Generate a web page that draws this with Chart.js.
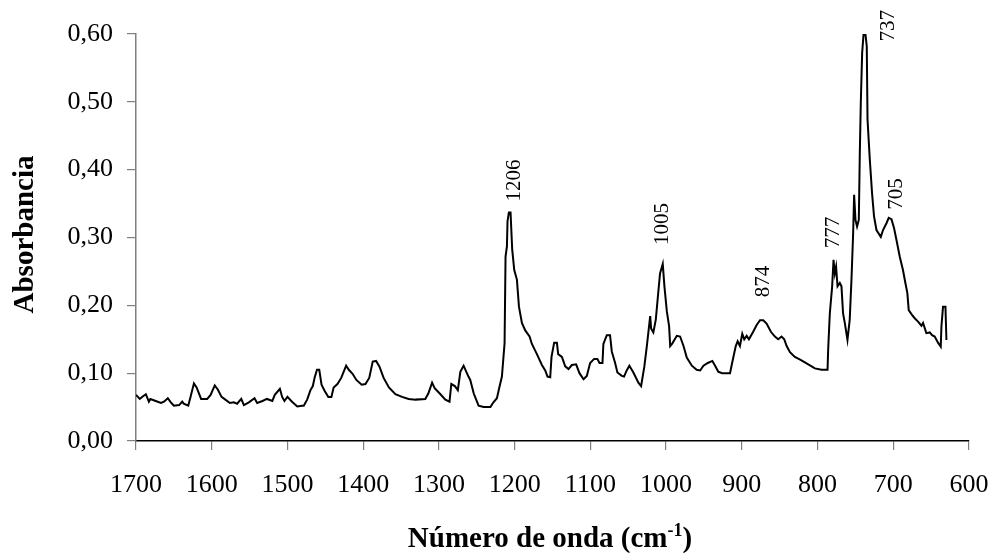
<!DOCTYPE html>
<html>
<head>
<meta charset="utf-8">
<script src="https://cdn.jsdelivr.net/npm/chart.js@4"></script>
<style>
html,body{margin:0;padding:0;background:#fff;}
#wrap{width:994px;height:554px;position:relative;}
</style>
</head>
<body>
<div id="wrap"><canvas id="c" width="994" height="554"></canvas></div>
<script>
// Wavenumber (cm-1), descending
const wavenumbers = [
1700,1695,1692,1687,1683,1681,1674,1667,1663,1658,1654,1650,1643,1639,1637,1631,1628,1623.5,1620,1614,1606,1601.5,1596,1592,1587,1582,1576,1571,1566.5,1561,1557.5,1551,1543.5,1540,1533,1527,1520,1516.7,1510,1507,1504,1500,1494,1487,1481,
1478.5,1474,1469.6,1466.5,1464,1461,1458,1455,1451,1446,1442,1439,1434,1429,1422.5,1419,1414,1409,1402,1397,1392,1387.4,1383,1378.6,1373,1366,1357.5,1348.6,1340,1331,1318,1314,1309,1305.6,1298,1291.5,1286,1283.6,1279,1275,1271.7,1267.4,1261,
1258.6,1254,1247.6,1241,1232,1228,1223.4,1220,1216.8,1213.3,1212,1210.2,1209.4,1207.6,1205.4,1203.2,1200.5,1197,1194.3,1190.4,1186,1180.3,1177.2,1170.6,1164,1159.6,1156.6,1153,1151.3,1147.8,1144.2,1142.5,1137.6,1133.2,1128.9,1124.4,1118.8,1114.4,1109,1104.7,1100.3,1095,1090.7,1088,1084,1082.8,1078.3,1074,1071.7,1067.3,1064.3,1058.5,1055.5,1052,1048.5,1043.2,1036.6,
1033,1028.7,1025.5,1021,1019.8,1016.8,1013.6,1010,1008,1004.4,1002.2,999,996,994.6,991.7,985.8,981.5,977,972.7,966,959.6,955,950.7,944.9,938.9,935.3,931,925.8,915.6,912.6,908,905.5,902.5,899.4,896.8,893.6,890.6,885,880.4,876,871.7,867.3,861.6,856.3,852,847.5,844,840.8,836.4,830,823,
816.7,803.5,794.7,786.8,786,783.8,780.7,778.9,777.2,775.5,773.6,770.6,768.4,766.3,764,760.5,757.5,755.2,753,751.7,749.9,747.8,745.5,744.2,742.9,741.1,739.3,736.7,735,734,731,728,725.4,722.2,716.5,713.5,709,706,702.4,699,695.9,691.5,687.2,684,681.4,679.6,675.3,671.7,667.3,662.8,660.7,656.3,651.8,648.8,645.3,640.9,637.3,636.4,634.3,631.1,629.8
];
// Absorbance
const absorbance = [
0.068,0.062,0.065,0.069,0.058,0.062,0.059,0.056,0.058,0.063,0.057,0.052,0.053,0.058,0.055,0.052,0.065,0.085,0.079,0.062,0.062,0.068,0.082,0.076,0.065,0.061,0.056,0.057,0.055,0.062,0.053,0.057,0.063,0.056,0.059,0.062,0.059,0.068,0.077,0.065,0.059,0.065,0.058,0.051,0.052,
0.052,0.061,0.075,0.081,0.094,0.105,0.105,0.083,0.074,0.065,0.065,0.079,0.084,0.093,0.111,0.105,0.099,0.090,0.083,0.084,0.093,0.117,0.118,0.110,0.093,0.079,0.069,0.065,0.062,0.061,0.062,0.070,0.086,0.078,0.069,0.061,0.058,0.084,0.081,0.075,0.102,0.111,0.095,
0.090,0.070,0.052,0.050,0.050,0.057,0.063,0.080,0.095,0.144,0.272,0.287,0.324,0.337,0.337,0.282,0.252,0.238,0.198,0.174,0.163,0.154,0.143,0.128,0.112,0.104,0.095,0.094,0.124,0.145,0.145,0.128,0.124,0.110,0.106,0.112,0.113,0.100,0.091,0.096,0.115,0.121,0.121,0.115,0.115,0.143,0.156,0.156,0.132,0.115,0.101,0.096,0.095,0.104,0.111,0.101,0.086,
0.081,0.110,0.139,0.184,0.166,0.160,0.179,0.223,0.247,0.261,0.228,0.191,0.169,0.140,0.144,0.155,0.154,0.140,0.123,0.111,0.105,0.104,0.111,0.115,0.118,0.111,0.102,0.100,0.100,0.116,0.140,0.147,0.140,0.158,0.150,0.155,0.150,0.161,0.171,0.178,0.178,0.173,0.161,0.154,0.150,0.154,0.150,0.140,0.131,0.124,0.120,
0.116,0.107,0.105,0.105,0.134,0.188,0.228,0.267,0.247,0.257,0.228,0.233,0.228,0.188,0.174,0.149,0.179,0.238,0.306,0.363,0.326,0.316,0.326,0.424,0.498,0.572,0.599,0.599,0.582,0.474,0.415,0.365,0.331,0.311,0.301,0.311,0.321,0.329,0.327,0.314,0.297,0.272,0.252,0.233,0.218,0.193,0.186,0.181,0.176,0.170,0.174,0.159,0.160,0.156,0.154,0.145,0.139,0.169,0.198,0.198,0.149
];
// Tick values
const xTicks = [1700,1600,1500,1400,1300,1200,1100,1000,900,800,700,600];
const yTicks = [0,0.1,0.2,0.3,0.4,0.5,0.6];
// Peak annotations: text, anchor wavenumber, anchor absorbance
const peakLabels = ['1206','1005','874','777','737','705'];
const peakLabelX = [1200.1,1004.9,870.8,778.5,705.9,696.3];
const peakLabelY = [0.353,0.289,0.212,0.284,0.589,0.341];

const xTitle = 'Número de onda (cm';
const xTitleSup = '-1';
const yTitle = 'Absorbancia';

const points = wavenumbers.map((w,i)=>({x:w,y:absorbance[i]}));
const SERIF = '"Liberation Serif","Times New Roman",serif';

const annotatePlugin = {
  id:'annot',
  afterDraw(chart){
    const ctx = chart.ctx;
    const xs = chart.scales.x, ys = chart.scales.y;
    ctx.save();
    ctx.fillStyle = '#000';
    ctx.font = '21px ' + SERIF;
    ctx.textAlign = 'left';
    ctx.textBaseline = 'middle';
    peakLabels.forEach((t,i)=>{
      const px = xs.getPixelForValue(peakLabelX[i]);
      const py = ys.getPixelForValue(peakLabelY[i]);
      ctx.save();
      ctx.translate(px,py);
      ctx.rotate(-Math.PI/2);
      ctx.fillText(t,0,0);
      ctx.restore();
    });
    // y title
    ctx.font = 'bold 29px ' + SERIF;
    ctx.textAlign = 'center';
    ctx.textBaseline = 'alphabetic';
    const ca = chart.chartArea;
    ctx.save();
    ctx.translate(33,(ca.top+ca.bottom)/2 - 3);
    ctx.rotate(-Math.PI/2);
    ctx.fillText(yTitle,0,0);
    ctx.restore();
    // x title with superscript
    const mainW = ctx.measureText(xTitle).width;
    ctx.font = 'bold 18px ' + SERIF;
    const supW = ctx.measureText(xTitleSup).width;
    ctx.font = 'bold 29px ' + SERIF;
    const parW = ctx.measureText(')').width;
    const total = mainW + supW + parW;
    let sx = (ca.left+ca.right)/2 - 2.5 - total/2;
    const by = 547;
    ctx.textAlign = 'left';
    ctx.fillText(xTitle,sx,by);
    sx += mainW;
    ctx.font = 'bold 18px ' + SERIF;
    ctx.fillText(xTitleSup,sx,by-11);
    sx += supW;
    ctx.font = 'bold 29px ' + SERIF;
    ctx.fillText(')',sx,by);
    ctx.restore();
  }
};

new Chart(document.getElementById('c'),{
  type:'scatter',
  data:{datasets:[{
    data:points,
    showLine:true,
    borderColor:'#000',
    borderWidth:2,
    pointRadius:0,
    tension:0,
    fill:false
  }]},
  options:{
    responsive:false,
    animation:false,
    events:[],
    layout:{padding:{top:34,right:25,left:0,bottom:0}},
    plugins:{legend:{display:false},tooltip:{enabled:false}},
    scales:{
      x:{
        type:'linear',
        reverse:true,
        min:600,max:1700,
        afterBuildTicks(s){ s.ticks = xTicks.map(v=>({value:v})); },
        afterFit(s){ s.height = 113; s.paddingLeft = 0; s.paddingRight = 0; },
        ticks:{
          font:{family:SERIF,size:26},
          color:'#000',
          padding:20,
          maxRotation:0,
          autoSkip:false,
          callback:(v)=>String(v)
        },
        grid:{display:true,drawOnChartArea:false,drawTicks:true,tickLength:9,color:'#808080',lineWidth:1.2},
        border:{display:true,color:'#000',width:1.5}
      },
      y:{
        min:0,max:0.6,
        afterBuildTicks(s){ s.ticks = yTicks.map(v=>({value:v})); },
        afterFit(s){ s.width = 136; s.paddingTop = 0; s.paddingBottom = 0; },
        ticks:{
          font:{family:SERIF,size:26},
          color:'#000',
          padding:14,
          callback:(v)=>Number(v).toFixed(2).replace('.',',')
        },
        grid:{display:true,drawOnChartArea:false,drawTicks:true,tickLength:9,color:'#808080',lineWidth:1.2},
        border:{display:true,color:'#808080',width:1.5}
      }
    }
  },
  plugins:[annotatePlugin]
});
</script>
</body>
</html>
